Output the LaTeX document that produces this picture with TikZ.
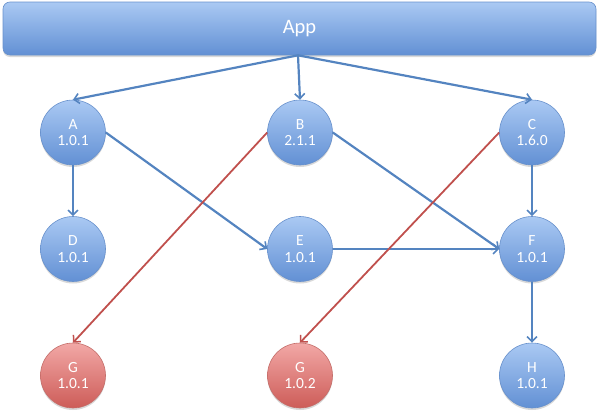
\documentclass[tikz,border=0pt]{standalone}
\usepackage{fontspec}
\setmainfont{Carlito}
\usetikzlibrary{arrows.meta,shadows}
\definecolor{bluetop}{RGB}{170,201,243}
\definecolor{bluebot}{RGB}{98,144,212}
\definecolor{blueedge}{RGB}{104,145,204}
\definecolor{redtop}{RGB}{242,168,166}
\definecolor{redbot}{RGB}{205,92,88}
\definecolor{rededge}{RGB}{196,110,106}
\definecolor{blueline}{RGB}{84,132,192}
\definecolor{redline}{RGB}{192,80,77}
\tikzset{
  pkg/.style={circle, minimum size=65pt, inner sep=0pt, draw=blueedge, line width=0.6pt,
    top color=bluetop, bottom color=bluebot, text=white, align=center,
    font=\fontsize{15.5}{16.5}\selectfont,
    drop shadow={shadow xshift=0pt, shadow yshift=-2pt, opacity=0.25, fill=black!60}},
  bad/.style={pkg, draw=rededge, top color=redtop, bottom color=redbot},
  dep/.style={draw=blueline, line width=2.2pt, -{Straight Barb[length=5pt,width=10pt,line width=1.6pt]}},
  conflict/.style={draw=redline, line width=1.8pt, -{Straight Barb[length=5pt,width=10pt,line width=1.5pt]}},
  appbar/.style={rectangle, rounded corners=7pt, minimum width=593pt, minimum height=53pt,
    draw=blueedge, line width=0.6pt, top color=bluetop, bottom color=bluebot, text=white,
    font=\fontsize{20.5}{22}\selectfont,
    drop shadow={shadow xshift=0pt, shadow yshift=-2pt, opacity=0.25, fill=black!60}}
}
\begin{document}
\begin{tikzpicture}[x=1pt,y=-1pt]
\useasboundingbox (0,0) rectangle (600,413);
\node[appbar] (app) at (299.5,28.5) {App};
\node[pkg] (a) at (73,132.5) {A\\1.0.1};
\node[pkg] (b) at (300,132.5) {B\\2.1.1};
\node[pkg] (c) at (532,132.5) {C\\1.6.0};
\node[pkg] (d) at (73,249) {D\\1.0.1};
\node[pkg] (e) at (300,249) {E\\1.0.1};
\node[pkg] (f) at (532,249) {F\\1.0.1};
\node[bad] (g1) at (73,375.5) {G\\1.0.1};
\node[bad] (g2) at (300,375.5) {G\\1.0.2};
\node[pkg] (h) at (532,375.5) {H\\1.0.1};
\coordinate (src) at ([xshift=-1.5pt]app.south);
\draw[dep] (src) -- (a.north);
\draw[dep] (src) -- (b.north);
\draw[dep] (src) -- (c.north);
\draw[dep] (a.south) -- (d.north);
\draw[dep] (a.east) -- (e.west);
\draw[dep] (b.east) -- (f.west);
\draw[dep] (e.east) -- (f.west);
\draw[dep] (c.south) -- (f.north);
\draw[dep] (f.south) -- (h.north);
\draw[conflict] (b.west) -- (g1.north);
\draw[conflict] (c.west) -- (g2.north);
\end{tikzpicture}
\end{document}
